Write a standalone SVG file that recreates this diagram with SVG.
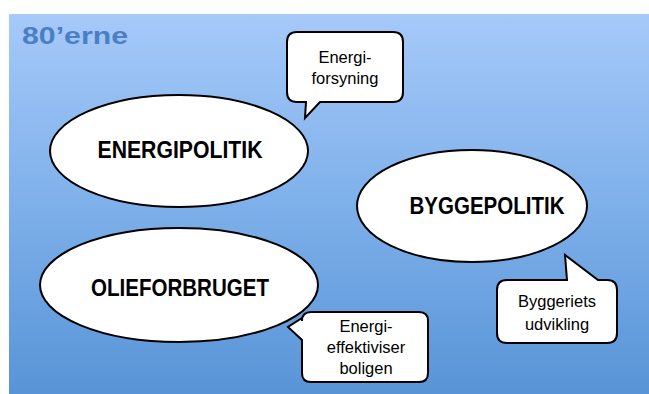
<svg xmlns="http://www.w3.org/2000/svg" width="649" height="394" viewBox="0 0 649 394">
<defs>
<linearGradient id="bg" x1="0" y1="0" x2="0" y2="1">
<stop offset="0" stop-color="#a6c9f9"/>
<stop offset="0.5" stop-color="#7eb0ea"/>
<stop offset="1" stop-color="#5894d7"/>
</linearGradient>
<style>
.node{fill:#ffffff;stroke:#000000;stroke-width:2}
.big{font-family:"Liberation Sans",Arial,sans-serif;font-weight:bold;font-size:23px;fill:#000000;text-anchor:middle}
.small{font-family:"Liberation Sans",Arial,sans-serif;font-size:16.5px;fill:#000000;text-anchor:middle}
.title{font-family:"Liberation Sans",Arial,sans-serif;font-weight:bold;font-size:23px;fill:#4a80c3}
</style>
</defs>
<rect x="0" y="0" width="649" height="394" fill="#ffffff"/>
<rect x="9" y="14" width="640" height="380" fill="url(#bg)"/>
<text class="title" x="22" y="44" textLength="106" lengthAdjust="spacingAndGlyphs">80’erne</text>
<g id="connectors"></g>
<g id="energipolitik">
<ellipse class="node" cx="179" cy="151" rx="129" ry="56"/>
<text class="big" x="180" y="158" textLength="165" lengthAdjust="spacingAndGlyphs">ENERGIPOLITIK</text>
</g>
<g id="byggepolitik">
<ellipse class="node" cx="472" cy="206" rx="115" ry="56"/>
<text class="big" x="487" y="214" textLength="155" lengthAdjust="spacingAndGlyphs">BYGGEPOLITIK</text>
</g>
<g id="olieforbruget">
<ellipse class="node" cx="179" cy="285" rx="139" ry="57"/>
<text class="big" x="180" y="296" textLength="178" lengthAdjust="spacingAndGlyphs">OLIEFORBRUGET</text>
</g>
<g id="energiforsyning">
<path class="node" d="M297,32 H393 Q403,32 403,42 V92 Q403,102 393,102 H320 L305,118 L306,102 H297 Q287,102 287,92 V42 Q287,32 297,32 Z"/>
<text class="small" x="345" y="63">Energi-</text>
<text class="small" x="345" y="84">forsyning</text>
</g>
<g id="byggerietsudvikling">
<path class="node" d="M507,280 H567 L565,255 L598,280 H607 Q617,280 617,290 V333 Q617,343 607,343 H507 Q497,343 497,333 V290 Q497,280 507,280 Z"/>
<text class="small" x="557" y="307">Byggeriets</text>
<text class="small" x="557" y="330">udvikling</text>
</g>
<g id="energieffektiviser">
<path class="node" d="M311,312 H419 Q428,312 428,321 V373 Q428,382 419,382 H311 Q302,382 302,373 V340 L288,327 L302,318 V321 Q302,312 311,312 Z"/>
<text class="small" x="366" y="332">Energi-</text>
<text class="small" x="366" y="353">effektiviser</text>
<text class="small" x="366" y="374">boligen</text>
</g>
</svg>
